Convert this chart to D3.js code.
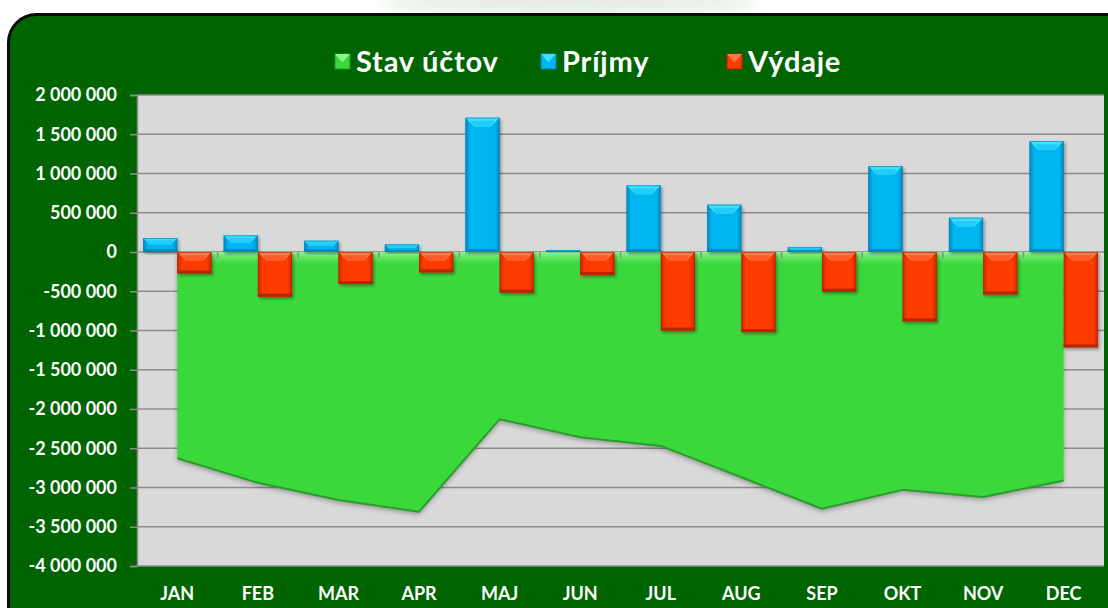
<!DOCTYPE html>
<html><head><meta charset="utf-8">
<script src="https://cdn.jsdelivr.net/npm/d3@7/dist/d3.min.js"></script>
<style>html,body{margin:0;padding:0;background:#fff;}svg{display:block;}</style>
</head><body>
<svg id="c" width="1108" height="608"></svg>
<script>
const months = ["JAN","FEB","MAR","APR","MAJ","JUN","JUL","AUG","SEP","OKT","NOV","DEC"];
const prijmy = [178000, 212000, 144000, 98000, 1711000, 25000, 850000, 603000, 64000, 1095000, 437000, 1414000];
const vydaje = [-272000, -569000, -408000, -259000, -518000, -293000, -1000000, -1020000, -505000, -883000, -540000, -1215000];
const stav = [-2628000, -2940000, -3160000, -3310000, -2130000, -2360000, -2470000, -2870000, -3270000, -3030000, -3120000, -2910000];
const yTicks = [2000000,1500000,1000000,500000,0,-500000,-1000000,-1500000,-2000000,-2500000,-3000000,-3500000,-4000000];
const seriesNames = ["Stav účtov","Príjmy","Výdaje"];

const FONT = "Lato, 'Open Sans', sans-serif";
const svg = d3.select("#c");
const defs = svg.append("defs");

// filters
const sh = defs.append("filter").attr("id","shadow").attr("x","-20%").attr("y","-20%").attr("width","140%").attr("height","140%");
sh.append("feDropShadow").attr("dx",1.5).attr("dy",2).attr("stdDeviation",1.8).attr("flood-color","#000").attr("flood-opacity",0.35);
const sh2 = defs.append("filter").attr("id","ashadow").attr("x","-5%").attr("y","-5%").attr("width","110%").attr("height","115%");
sh2.append("feDropShadow").attr("dx",0).attr("dy",3).attr("stdDeviation",2.5).attr("flood-color","#000").attr("flood-opacity",0.3);
const blur = defs.append("filter").attr("id","blur");
blur.append("feGaussianBlur").attr("stdDeviation",8);

function hGrad(id, edge, mid){
  const g = defs.append("linearGradient").attr("id",id).attr("x1",0).attr("x2",1).attr("y1",0).attr("y2",0);
  g.append("stop").attr("offset",0).attr("stop-color",edge);
  g.append("stop").attr("offset",0.14).attr("stop-color",mid);
  g.append("stop").attr("offset",0.86).attr("stop-color",mid);
  g.append("stop").attr("offset",1).attr("stop-color",edge);
}
hGrad("gBlue","#0789c0","#00b6f0");
hGrad("gRed","#c82a00","#ff3a00");

// watermark outside frame
svg.append("ellipse").attr("cx",570).attr("cy",2).attr("rx",190).attr("ry",12).attr("fill","#e2ece2").attr("filter","url(#blur)");

// frame
svg.append("rect").attr("x",8.5).attr("y",14.5).attr("width",1130).attr("height",630).attr("rx",28)
  .attr("fill","#006400").attr("stroke","#0a0a0a").attr("stroke-width",3);

const L = 137, R = 1104, T = 95, B = 566;
const x = d3.scaleBand().domain(months).range([L,R]).paddingInner(0.15).paddingOuter(0.075);
const y = d3.scaleLinear().domain([-4000000,2000000]).range([B,T]);
const bw = x.bandwidth();
const step = x.step();
const cx = m => x(m) + bw/2;

// plot area
svg.append("rect").attr("x",L).attr("y",T).attr("width",R-L).attr("height",B-T).attr("fill","#d9d9d9");

const loc = d3.formatLocale({decimal:",", thousands:" ", grouping:[3], currency:["",""], minus:"-"});
const fmt = loc.format(",d");

// gridlines + y axis
const yAxis = d3.axisLeft(y).tickValues(yTicks).tickSize(7).tickPadding(13).tickFormat(fmt);
const ga = svg.append("g").attr("transform",`translate(${L},0)`).call(yAxis);
ga.select(".domain").attr("stroke","#8c8c8c").attr("stroke-width",1.5);
ga.selectAll(".tick line").attr("stroke","#8c8c8c").attr("stroke-width",1.5);
ga.selectAll(".tick text").attr("fill","#fff").attr("font-family",FONT).attr("font-weight","bold").attr("font-size","18px");
const grid = svg.append("g");
grid.selectAll("line").data(yTicks).join("line")
  .attr("x1",L).attr("x2",R).attr("y1",d=>y(d)).attr("y2",d=>y(d))
  .attr("stroke","#8c8c8c").attr("stroke-width",1.5);

// area
const stavData = months.map((m,i)=>({m, v:stav[i]}));
const area = d3.area().x(d=>cx(d.m)).y0(y(0)).y1(d=>y(d.v));
const line = d3.line().x(d=>cx(d.m)).y(d=>y(d.v));
const ag = defs.append("linearGradient").attr("id","gArea").attr("gradientUnits","userSpaceOnUse")
  .attr("x1",0).attr("x2",0).attr("y1",y(0)).attr("y2",y(0)+12);
ag.append("stop").attr("offset",0).attr("stop-color","#8ef58e");
ag.append("stop").attr("offset",0.35).attr("stop-color","#6ae86a");
ag.append("stop").attr("offset",1).attr("stop-color","#3ad83a");
svg.append("path").datum(stavData).attr("d",area).attr("fill","url(#gArea)").attr("filter","url(#ashadow)");
svg.append("path").datum(stavData).attr("d",line).attr("fill","none").attr("stroke","#2a9e2a").attr("stroke-width",2).attr("stroke-linejoin","round");

// category axis at zero
const tickXs = d3.range(1, months.length).map(i => L + i*step);
svg.append("g").selectAll("line").data(tickXs).join("line")
  .attr("x1",d=>d).attr("x2",d=>d).attr("y1",y(0)).attr("y2",y(0)+6)
  .attr("stroke","#8c8c8c").attr("stroke-width",1.5);

// bars
function drawBar(g, x0, w, v, fillId, light, lightEnd, dark){
  const y0 = y(Math.max(v,0)), y1 = y(Math.min(v,0));
  const h = y1 - y0;
  const bg = g.append("g").attr("filter","url(#shadow)");
  bg.append("rect").attr("x",x0).attr("y",y0).attr("width",w).attr("height",h).attr("fill",`url(#${fillId})`);
  const b = Math.min(9, h*0.45, w/2);
  bg.append("path").attr("d",`M${x0},${y0}L${x0+w},${y0}L${x0+w-b},${y0+b}L${x0+b},${y0+b}Z`).attr("fill",light);
  bg.append("path").attr("d",`M${x0+b*0.6},${y0+b*0.35}L${x0+w-b*0.6},${y0+b*0.35}L${x0+w-b},${y0+b}L${x0+b},${y0+b}Z`).attr("fill",lightEnd);
  const bb = Math.min(3, h*0.3);
  bg.append("rect").attr("x",x0).attr("y",y1-bb).attr("width",w).attr("height",bb).attr("fill",dark).attr("opacity",0.8);
  bg.append("rect").attr("x",x0+0.5).attr("y",y0+0.5).attr("width",w-1).attr("height",Math.max(h-1,0)).attr("fill","none").attr("stroke",dark).attr("stroke-width",1).attr("opacity",0.6);
}
const bars = svg.append("g");
months.forEach((m,i)=>{
  drawBar(bars, x(m), bw/2, prijmy[i], "gBlue", "#3fe0ff", "#22ccf8", "#0a7fb0");
  drawBar(bars, x(m)+bw/2, bw/2, vydaje[i], "gRed", "#ff7a4a", "#ff5a2a", "#a82400");
});

// x labels
svg.append("g").selectAll("text").data(months).join("text")
  .attr("x",d=>cx(d)).attr("y",600).attr("text-anchor","middle")
  .attr("fill","#fff").attr("font-family",FONT).attr("font-weight","bold").attr("font-size","18px")
  .text(d=>d);

// legend
const legX = [335, 541, 727];
const legCols = [["#3ad83a","#8ef58e","#1f9a1f"],["#00b6f0","#3fe0ff","#0a7fb0"],["#ff3a00","#ff7a4a","#a82400"]];
const lg = svg.append("g");
seriesNames.forEach((n,i)=>{
  const mx = legX[i], my = 54, s = 15;
  const [c, lc, dc] = legCols[i];
  lg.append("rect").attr("x",mx).attr("y",my).attr("width",s).attr("height",s).attr("fill",c).attr("stroke",dc).attr("stroke-width",1);
  lg.append("path").attr("d",`M${mx},${my}L${mx+s},${my}L${mx+s/2},${my+s*0.55}Z`).attr("fill",lc);
  lg.append("text").attr("x",mx+21).attr("y",72).attr("fill","#fff").attr("font-family",FONT)
    .attr("font-weight","bold").attr("font-size","29px").attr("letter-spacing","0.8px").text(n);
});
</script>
</body></html>
